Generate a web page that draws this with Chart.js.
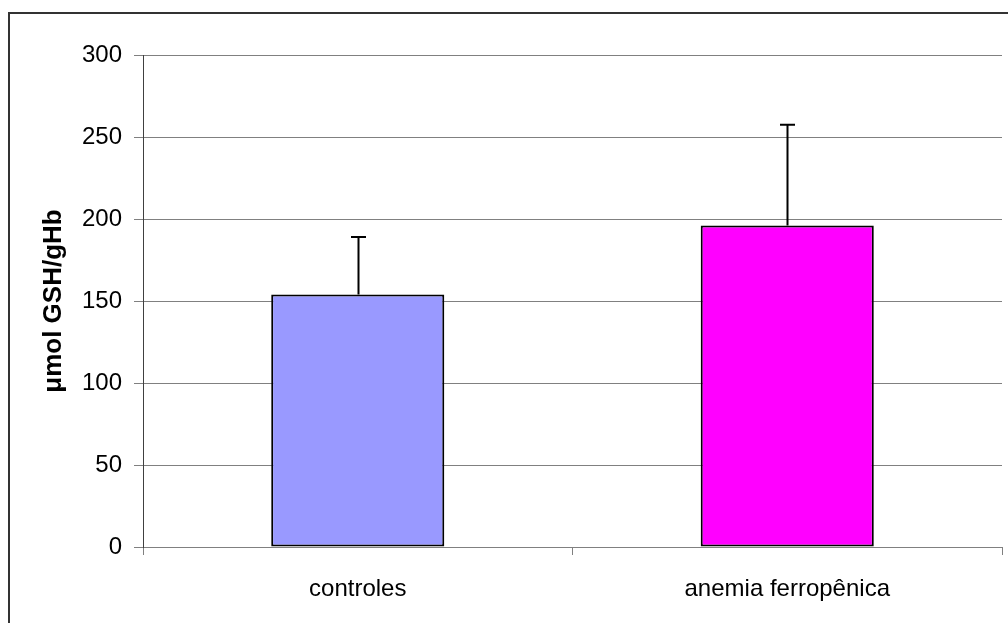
<!DOCTYPE html>
<html>
<head>
<meta charset="utf-8">
<script src="https://cdn.jsdelivr.net/npm/chart.js@4/dist/chart.umd.min.js"></script>
<style>
html,body{margin:0;padding:0;background:#fff;overflow:hidden;}
canvas{display:block;}
</style>
</head>
<body>
<canvas id="c" width="1008" height="623"></canvas>
<script>
// Data
const categories = ['controles', 'anemia ferropênica'];
const meanValues = [154, 196];
const errorUp = [35, 61.5];
const yTicks = [0, 50, 100, 150, 200, 250, 300];
const yTitle = 'μmol GSH/gHb';
const barColors = ['#9999FF', '#FF00FF'];

const FONT = '"Liberation Sans", Arial, sans-serif';

const frame = {
  id: 'frame',
  beforeDraw(chart) {
    const ctx = chart.ctx;
    ctx.save();
    ctx.fillStyle = '#fff';
    ctx.fillRect(0, 0, chart.width, chart.height);
    ctx.strokeStyle = '#333';
    ctx.lineWidth = 2;
    ctx.strokeRect(9, 13, 1200, 800);
    ctx.restore();
  }
};

const errorBars = {
  id: 'errorBars',
  afterDatasetsDraw(chart) {
    const ctx = chart.ctx;
    const meta = chart.getDatasetMeta(0);
    const y = chart.scales.y;
    ctx.save();
    ctx.strokeStyle = '#000';
    ctx.lineWidth = 2;
    meta.data.forEach((bar, i) => {
      const x = Math.round(bar.x) + 0.5;
      const yBase = y.getPixelForValue(meanValues[i]);
      const yTop = y.getPixelForValue(meanValues[i] + errorUp[i]);
      ctx.beginPath();
      ctx.moveTo(x, yBase);
      ctx.lineTo(x, yTop);
      ctx.moveTo(x - 7.5, yTop);
      ctx.lineTo(x + 7.5, yTop);
      ctx.stroke();
    });
    ctx.restore();
  }
};

new Chart(document.getElementById('c'), {
  type: 'bar',
  data: {
    labels: categories,
    datasets: [{
      data: meanValues,
      backgroundColor: barColors,
      borderColor: '#000',
      borderWidth: 2,
      borderSkipped: false,
      barPercentage: 0.403,
      categoryPercentage: 1.0
    }]
  },
  options: {
    responsive: false,
    animation: false,
    devicePixelRatio: 1,
    layout: { padding: { left: 0, top: 55, right: 6, bottom: 0 } },
    plugins: { legend: { display: false }, tooltip: { enabled: false } },
    scales: {
      x: {
        afterFit(scale) { scale.height = 76; },
        grid: { display: true, offset: true, drawOnChartArea: false, drawTicks: true, tickLength: 8, color: '#808080', lineWidth: 1 },
        border: { display: true, color: '#808080', width: 1 },
        ticks: { color: '#000', padding: 20, font: { family: FONT, size: 24 }, maxRotation: 0 }
      },
      y: {
        min: 0,
        max: 300,
        afterFit(scale) { scale.width = 143; },
        afterBuildTicks(scale) { scale.ticks = yTicks.map(v => ({ value: v })); },
        grid: { color: '#808080', lineWidth: 1, tickLength: 9, drawTicks: true },
        border: { display: true, color: '#404040', width: 1 },
        ticks: { color: '#000', padding: 12, font: { family: FONT, size: 24 } },
        title: {
          display: true,
          text: yTitle,
          color: '#000',
          font: { family: FONT, size: 26, weight: 'bold' },
          padding: { top: 38, bottom: 0 }
        }
      }
    }
  },
  plugins: [frame, errorBars]
});
</script>
</body>
</html>
